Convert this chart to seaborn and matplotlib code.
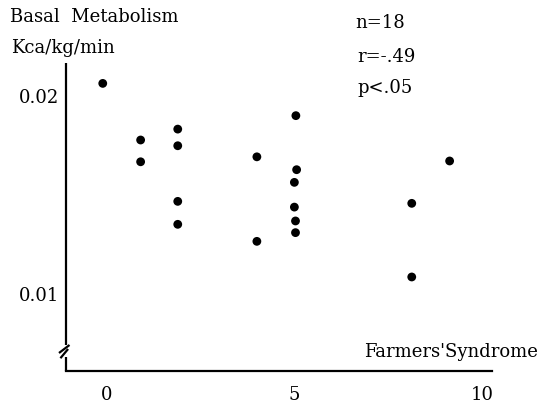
import numpy as np
import pandas as pd
import matplotlib
matplotlib.use('Agg')
import matplotlib.pyplot as plt
import seaborn as sns

# Data (x = Farmers' Syndrome score, y = basal metabolism)
syndrome = [-0.11, 0.90, 0.90, 1.89, 1.89, 1.89, 1.89, 4.0, 4.0,
            5.04, 5.06, 5.0, 5.0, 5.03, 5.03, 8.13, 8.13, 9.14]
metabolism = [0.02064, 0.01778, 0.01668, 0.01833, 0.01749, 0.01468, 0.01352, 0.01693, 0.01266,
              0.01901, 0.01628, 0.01564, 0.01439, 0.01369, 0.01310, 0.01458, 0.01086, 0.01672]
x_ticks = [0, 5, 10]
y_ticks = [0.01, 0.02]
y_tick_labels = ['0.01', '0.02']
stats_lines = ['n=18', 'r=-.49', 'p<.05']

df = pd.DataFrame({'syndrome': syndrome, 'metabolism': metabolism})

sns.set_style('white')
plt.rcParams['font.family'] = ['DejaVu Serif']
plt.rcParams['text.color'] = 'black'
plt.rcParams['xtick.color'] = 'black'
plt.rcParams['ytick.color'] = 'black'

W, H = 543, 407
fig = plt.figure(figsize=(W / 100, H / 100), dpi=100)
# axes box from the reference pixel frame
left, right, top, bottom = 66, 492, 63, 371
ax = fig.add_axes([left / W, 1 - bottom / H, (right - left) / W, (bottom - top) / H])

sns.scatterplot(data=df, x='syndrome', y='metabolism', ax=ax, color='black',
                s=40, edgecolor='none', legend=False)

ax.set_xlim(-1.09, 10.27)
ax.set_ylim(0.00611, 0.02167)
ax.set_xticks(x_ticks)
ax.set_xticklabels([str(t) for t in x_ticks])
ax.set_yticks(y_ticks)
ax.set_yticklabels(y_tick_labels)
ax.tick_params(axis='both', direction='in', length=3, width=1, colors='black',
               labelsize=13)
ax.tick_params(axis='x', pad=11)
ax.tick_params(axis='y', pad=5)
ax.set_xlabel('')
ax.set_ylabel('')

for s in ['top', 'right', 'left']:
    ax.spines[s].set_visible(False)
ax.spines['bottom'].set_linewidth(1.6)
ax.spines['bottom'].set_color('black')

# left axis drawn by hand with a break near the bottom
tr = ax.transAxes
brk_hi = 1 - (345 - top) / (bottom - top)
brk_lo = 1 - (357 - top) / (bottom - top)
dx = 7 / (right - left)
dy = 4 / (bottom - top)
lkw = dict(transform=tr, color='black', lw=1.6, clip_on=False, solid_capstyle='butt')
ax.plot([0, 0], [1, brk_hi], **lkw)
ax.plot([0, 0], [brk_lo, 0], **lkw)
ax.plot([dx * 0.5, -dx], [brk_hi, brk_hi - 2 * dy], **lkw)
ax.plot([dx * 0.3, -dx * 0.8], [brk_lo + 2 * dy, brk_lo - 0.3 * dy], **lkw)

# texts
fs = 13
fig.text(10 / W, 1 - 17 / H, 'Basal  Metabolism', fontsize=fs, va='center', ha='left')
fig.text(11 / W, 1 - 48 / H, 'Kca/kg/min', fontsize=fs, va='center', ha='left')
for line, yy, xx in zip(stats_lines, [23, 57, 88], [355, 357, 357]):
    fig.text(xx / W, 1 - yy / H, line, fontsize=fs, va='center', ha='left')
fig.text(538 / W, 1 - 352 / H, "Farmers'Syndrome", fontsize=fs, va='center', ha='right')

fig.savefig('out.png', dpi=100)
